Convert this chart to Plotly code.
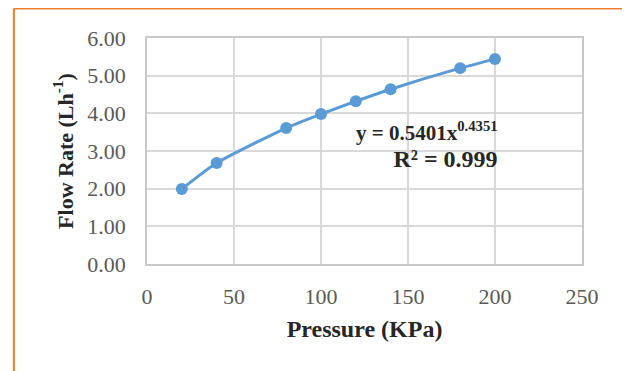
import plotly.graph_objects as go

pressure = [20, 40, 80, 100, 120, 140, 180, 200]
flow_rate = [1.99, 2.68, 3.61, 3.98, 4.32, 4.64, 5.20, 5.44]

x_ticks = [0, 50, 100, 150, 200, 250]
y_ticks = [0, 1, 2, 3, 4, 5, 6]
y_tick_text = ["0.00", "1.00", "2.00", "3.00", "4.00", "5.00", "6.00"]

equation_line1 = "y = 0.5401x<sup>0.4351</sup>"
equation_line2 = "R² = 0.999"

blue = "#5B9BD5"
grid = "#d9d9d9"
txt = "#595959"
serif = "Liberation Serif, Times New Roman, serif"

fig = go.Figure()
fig.add_trace(go.Scatter(
    x=pressure, y=flow_rate, mode="lines+markers",
    line=dict(color=blue, width=3, shape="spline", smoothing=0.6),
    marker=dict(color=blue, size=12),
    showlegend=False, hoverinfo="x+y",
))

fig.update_layout(
    width=630, height=371,
    margin=dict(l=139, r=56, t=30, b=115),
    paper_bgcolor="white", plot_bgcolor="white",
    font=dict(family=serif, color=txt, size=22),
    xaxis=dict(
        range=[0, 250], tickvals=x_ticks, showgrid=True, gridcolor=grid, gridwidth=1.5,
        showline=True, linecolor="#c8c8c8", linewidth=1.5, mirror=True, zeroline=False,
        ticklabelstandoff=12, tickfont=dict(size=22, color=txt),
        title=dict(text="<b>Pressure (KPa)</b>", font=dict(size=24, color="#262626"), standoff=12),
    ),
    yaxis=dict(
        range=[0, 6], tickvals=y_ticks, ticktext=y_tick_text, showgrid=True, gridcolor=grid,
        gridwidth=1.5, showline=True, linecolor="#c8c8c8", linewidth=1.5, mirror=True,
        zeroline=False, ticklabelstandoff=15, tickfont=dict(size=22, color=txt),
        title=dict(text="<b>Flow Rate (Lh<sup>-1</sup>)</b>", font=dict(size=22, color="#262626"), standoff=8),
    ),
    annotations=[dict(
        text="<b>" + equation_line1 + "</b><br><b><span style='font-size:24px'>" + equation_line2 + "</span></b>",
        xref="paper", yref="paper", x=0.812, y=0.525, xanchor="right", yanchor="middle",
        align="right", showarrow=False, font=dict(size=21, color="#262626", family=serif),
    )],
    shapes=[
        dict(type="line", xref="paper", yref="paper", x0=-0.306, x1=-0.306, y0=1.13, y1=-0.6,
             line=dict(color="#ED7D31", width=2)),
        dict(type="line", xref="paper", yref="paper", x0=-0.306, x1=1.103, y0=1.13, y1=1.13,
             line=dict(color="#ED7D31", width=2)),
        dict(type="line", xref="paper", yref="paper", x0=1.103, x1=1.103, y0=1.13, y1=-0.6,
             line=dict(color="#ED7D31", width=2)),
    ],
)

fig.write_html("out.html")
